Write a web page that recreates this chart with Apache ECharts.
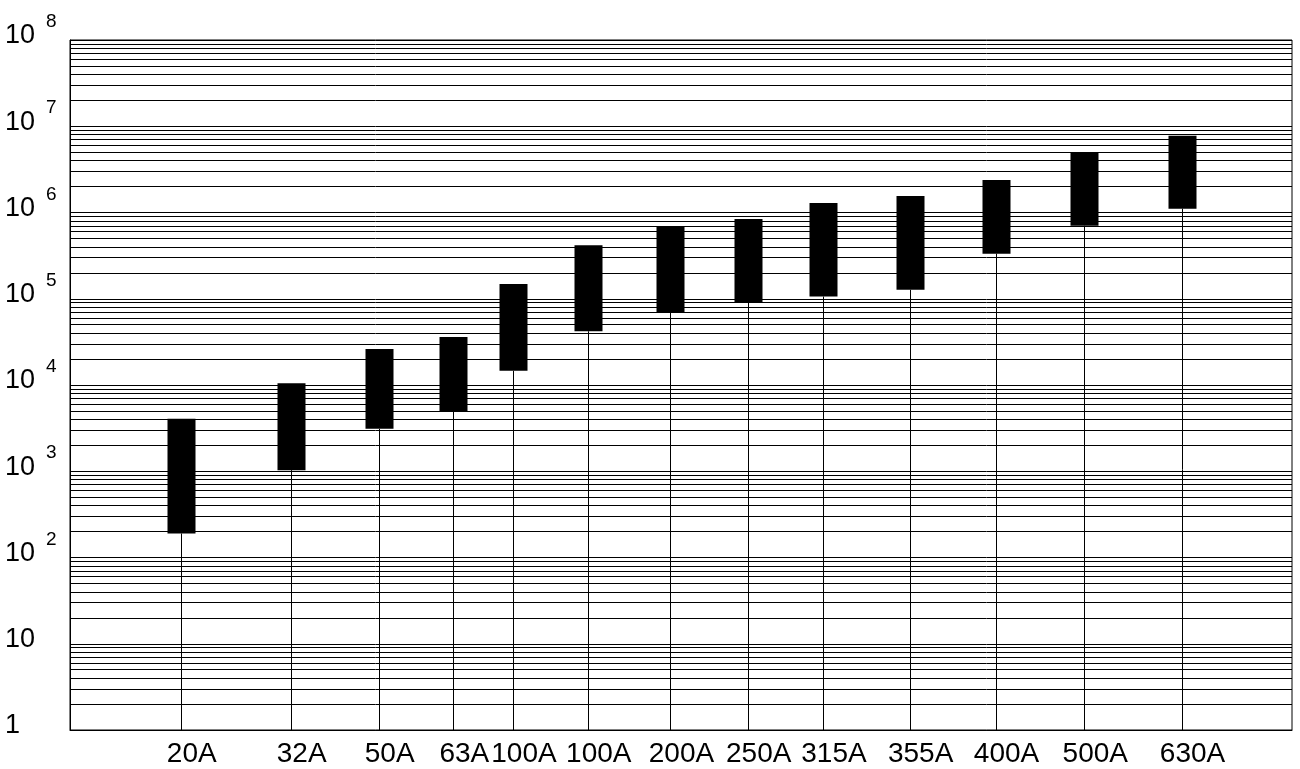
<!DOCTYPE html>
<html>
<head>
<meta charset="utf-8">
<script src="https://cdn.jsdelivr.net/npm/echarts@6/dist/echarts.min.js"></script>
<style>
html, body { margin: 0; padding: 0; background: #ffffff; }
#chart { width: 1300px; height: 769px; }
</style>
</head>
<body>
<div id="chart"></div>
<script>
// ---- data ----
const categories = ['20A', '32A', '50A', '63A', '100A', '100A', '200A', '250A', '315A', '355A', '400A', '500A', '630A'];
// horizontal position of each category on a 0..100 axis
const xPositions = [9.06, 18.06, 25.26, 31.37, 36.25, 42.37, 49.14, 55.46, 61.62, 68.71, 75.74, 83.00, 90.96];
const lowValues  = [190, 1030, 3100, 4900, 14600, 42000, 69000, 91000, 106000, 127000, 333000, 703000, 1107000];
const highValues = [4060, 10500, 26100, 36000, 148000, 417000, 697000, 841000, 1290000, 1550000, 2380000, 4900000, 7770000];
// y axis tick exponents (10^0 .. 10^8)
const yExponents = [0, 1, 2, 3, 4, 5, 6, 7, 8];
const minorMultipliers = [2, 3, 4, 5, 6, 7, 8, 9];

const FONT = "'Liberation Sans', Arial, Helvetica, sans-serif";

const seriesData = categories.map((c, i) => [xPositions[i], lowValues[i], highValues[i]]);

const minorLines = [];
yExponents.slice(0, -1).forEach(k => {
  minorMultipliers.forEach(m => minorLines.push({ yAxis: m * Math.pow(10, k) }));
});

const chart = echarts.init(document.getElementById('chart'), null, { renderer: 'canvas' });

chart.setOption({
  animation: false,
  backgroundColor: '#ffffff',
  grid: {
    left: 70, right: 8, top: 40, bottom: 39,
    show: true, borderColor: '#000', borderWidth: 1, backgroundColor: 'transparent'
  },
  xAxis: {
    type: 'value',
    min: 0, max: 100,
    axisLine: { show: true, lineStyle: { color: '#000', width: 1 } },
    axisTick: { show: false },
    splitLine: { show: false },
    axisLabel: {
      customValues: xPositions,
      formatter: function (v) {
        const i = xPositions.indexOf(v);
        return i >= 0 ? categories[i] : '';
      },
      color: '#000',
      fontFamily: FONT,
      fontSize: 28,
      lineHeight: 28,
      margin: 10,
      padding: [0, 0, 0, 22]
    }
  },
  yAxis: {
    type: 'log',
    logBase: 10,
    min: 1, max: 1e8,
    interval: 1,
    axisLine: { show: true, lineStyle: { color: '#000', width: 1 } },
    axisTick: { show: false },
    splitLine: { show: true, lineStyle: { color: '#000', width: 1 } },
    axisLabel: {
      align: 'left',
      margin: 65,
      verticalAlign: 'middle',
      padding: [0, 0, 18, 0],
      formatter: function (v) {
        const k = Math.round(Math.log10(v));
        if (k === 0) return '{b|1}';
        if (k === 1) return '{b|10}';
        return '{b|10}{s|' + k + '}';
      },
      rich: {
        b: { fontFamily: FONT, fontSize: 27, color: '#000', lineHeight: 37, verticalAlign: 'bottom' },
        s: { fontFamily: FONT, fontSize: 19, color: '#000', lineHeight: 17, padding: [0, 0, 0, 11], verticalAlign: 'top' }
      }
    }
  },
  series: [{
    type: 'custom',
    coordinateSystem: 'cartesian2d',
    data: seriesData,
    encode: { x: 0, y: [1, 2] },
    clip: false,
    renderItem: function (params, api) {
      const x = api.value(0);
      const base = api.coord([x, 1]);
      const lo = api.coord([x, api.value(1)]);
      const hi = api.coord([x, api.value(2)]);
      const cx = Math.round(base[0]) + 0.5;
      const w = 28;
      return {
        type: 'group',
        children: [
          { type: 'line', shape: { x1: cx, y1: base[1], x2: cx, y2: lo[1] }, style: { stroke: '#000', lineWidth: 1 } },
          { type: 'rect', shape: { x: cx - w / 2, y: hi[1], width: w, height: lo[1] - hi[1] }, style: { fill: '#000' } }
        ]
      };
    },
    markLine: {
      silent: true,
      symbol: ['none', 'none'],
      label: { show: false },
      lineStyle: { color: '#000', width: 1, type: 'solid' },
      emphasis: { disabled: true },
      data: minorLines
    },
    z: 3
  }]
});
</script>
</body>
</html>
